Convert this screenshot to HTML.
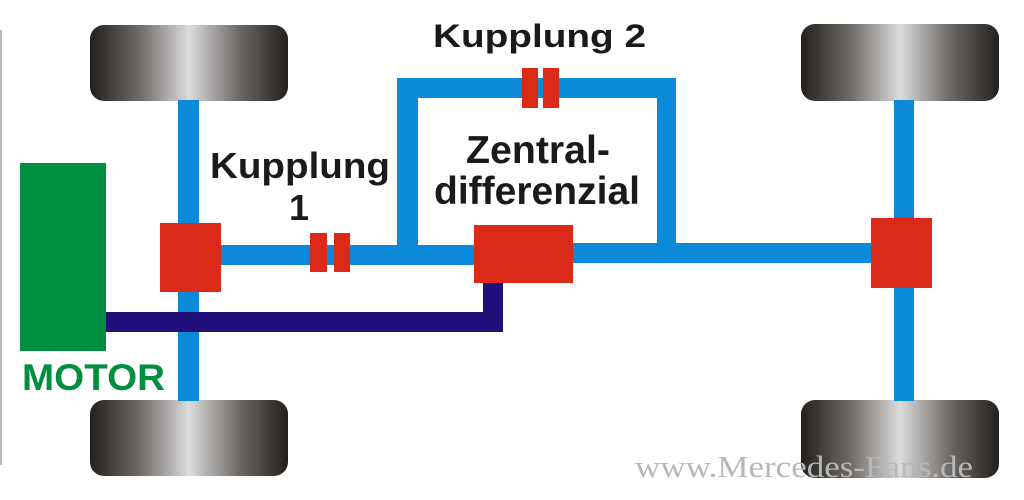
<!DOCTYPE html>
<html><head><meta charset="utf-8"><style>
html,body{margin:0;padding:0;background:#fff;}
svg{display:block;}
</style></head><body>
<svg width="1024" height="500" viewBox="0 0 1024 500" xmlns="http://www.w3.org/2000/svg">
<defs>
<linearGradient id="tire" x1="0" y1="0" x2="1" y2="0">
<stop offset="0" stop-color="#231f1c"/>
<stop offset="0.25" stop-color="#6e6a67"/>
<stop offset="0.5" stop-color="#dcdcdc"/>
<stop offset="0.75" stop-color="#6e6a67"/>
<stop offset="1" stop-color="#231f1c"/>
</linearGradient>
</defs>
<rect x="0" y="30" width="2" height="435" fill="#bbb"/>
<!-- wheels -->
<rect x="90" y="25" width="198" height="76" rx="14" fill="url(#tire)"/>
<rect x="90" y="400" width="198" height="76" rx="14" fill="url(#tire)"/>
<rect x="801" y="24" width="198" height="77" rx="14" fill="url(#tire)"/>
<rect x="801" y="400" width="198" height="78" rx="14" fill="url(#tire)"/>
<!-- blue shafts -->
<g fill="#0a8ad8">
<rect x="178" y="100" width="21" height="301"/>
<rect x="894" y="100" width="20" height="301"/>
<rect x="221" y="245" width="253" height="20"/>
<rect x="573" y="243" width="298" height="20"/>
<rect x="397" y="78" width="21" height="187"/>
<rect x="397" y="78" width="279" height="20"/>
<rect x="657" y="78" width="19" height="185"/>
</g>
<!-- purple -->
<g fill="#22107a">
<rect x="106" y="312" width="397" height="20"/>
<rect x="483" y="283" width="20" height="49"/>
</g>
<!-- motor -->
<rect x="20" y="163" width="86" height="188" fill="#008f3f"/>
<!-- red -->
<g fill="#dc2a18">
<rect x="160" y="223" width="61" height="69"/>
<rect x="474" y="225" width="99" height="58"/>
<rect x="871" y="218" width="61" height="70"/>
<rect x="310" y="233" width="17" height="39"/>
<rect x="334" y="233" width="16" height="39"/>
<rect x="522" y="68" width="16" height="40"/>
<rect x="543" y="68" width="16" height="40"/>
</g>
<g font-family="Liberation Sans, sans-serif" font-weight="bold" fill="#1a1a1a">
<text x="433" y="47" font-size="32" textLength="213" lengthAdjust="spacingAndGlyphs">Kupplung 2</text>
<text x="210" y="178" font-size="36" textLength="180" lengthAdjust="spacingAndGlyphs">Kupplung</text>
<text x="289" y="220" font-size="36">1</text>
<text x="466" y="163" font-size="39" textLength="144" lengthAdjust="spacingAndGlyphs">Zentral-</text>
<text x="434" y="204" font-size="39" textLength="206" lengthAdjust="spacingAndGlyphs">differenzial</text>
<text x="22" y="390" font-size="37" fill="#008f3f" textLength="143" lengthAdjust="spacingAndGlyphs">MOTOR</text>
</g>
<text x="635" y="477" font-family="Liberation Serif, serif" font-size="31" fill="#b8b8b8" textLength="338" lengthAdjust="spacingAndGlyphs">www.Mercedes-Fans.de</text>
</svg>
</body></html>
